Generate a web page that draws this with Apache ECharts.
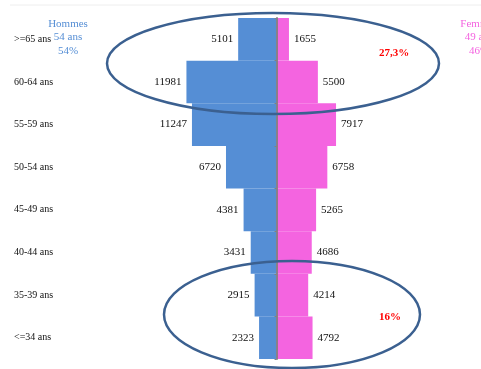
<!DOCTYPE html>
<html><head><meta charset="utf-8">
<script src="https://cdn.jsdelivr.net/npm/echarts@6/dist/echarts.min.js"></script>
<style>html,body{margin:0;padding:0;background:#fff}#c{width:481px;height:369px}</style>
</head><body><div id="c"></div>
<script>
const categories = ['>=65 ans','60-64 ans','55-59 ans','50-54 ans','45-49 ans','40-44 ans','35-39 ans','<=34 ans'];
const hommes = [5101, 11981, 11247, 6720, 4381, 3431, 2915, 2323];
const femmes = [1655, 5500, 7917, 6758, 5265, 4686, 4214, 4792];

const FONT = '"Liberation Serif","Times New Roman",serif';
const BLUE = '#558ED5', PINK = '#F464E0';
const chart = echarts.init(document.getElementById('c'), null, {renderer: 'canvas'});
chart.setOption({
  animation: false,
  grid: {left: 66, right: 9, top: 18, bottom: 10, containLabel: false, outerBoundsMode: 'none'},
  xAxis: {type: 'value', min: -28000, max: 26000, show: false},
  yAxis: [{
    type: 'category', data: categories, inverse: true, position: 'left',
    axisLine: {show: false, onZero: false},
    axisTick: {show: false},
    axisLabel: {align: 'left', margin: 52, fontFamily: FONT, fontSize: 10, color: '#111'},
    splitLine: {show: false}
  }, {
    type: 'category', data: categories, inverse: true, position: 'left', z: 10,
    axisLine: {show: true, onZero: true, lineStyle: {color: '#808080', width: 1.8}},
    axisTick: {show: true, length: 2, lineStyle: {color: '#808080'}},
    axisLabel: {show: false},
    splitLine: {show: false}
  }],
  series: [
    {type: 'bar', name: 'Hommes', yAxisIndex: 0, data: hommes.map(v => -v), barGap: '-100%', barCategoryGap: '0%',
     itemStyle: {color: BLUE},
     label: {show: true, position: 'left', distance: 5, formatter: p => String(-p.value),
             fontFamily: FONT, fontSize: 11, color: '#111'}},
    {type: 'bar', name: 'Femmes', yAxisIndex: 0, data: femmes, barGap: '-100%', barCategoryGap: '0%',
     itemStyle: {color: PINK},
     label: {show: true, position: 'right', distance: 5,
             fontFamily: FONT, fontSize: 11, color: '#111'}}
  ],
  graphic: [
    {type: 'line', shape: {x1: 10, y1: 5, x2: 481, y2: 5}, style: {stroke: '#eeeeee', lineWidth: 1}, z: 0},
    {type: 'text', x: 68, y: 17, style: {text: 'Hommes\n54 ans\n54%', fill: BLUE, font: '11px ' + FONT, textAlign: 'center', lineHeight: 13.5}, z: 20},
    {type: 'text', x: 479, y: 17, style: {text: 'Femmes\n49 ans\n46%', fill: PINK, font: '11px ' + FONT, textAlign: 'center', lineHeight: 13.5}, z: 20},
    {type: 'ellipse', shape: {cx: 273, cy: 63.5, rx: 166, ry: 50.5}, style: {fill: 'none', stroke: '#3B6090', lineWidth: 2.5}, z: 30},
    {type: 'ellipse', shape: {cx: 292, cy: 314.5, rx: 128, ry: 53.5}, style: {fill: 'none', stroke: '#3B6090', lineWidth: 2.5}, z: 30},
    {type: 'text', x: 394, y: 53, style: {text: '27,3%', fill: '#FF0000', font: 'bold 11px ' + FONT, textAlign: 'center', textVerticalAlign: 'middle'}, z: 20},
    {type: 'text', x: 390, y: 317, style: {text: '16%', fill: '#FF0000', font: 'bold 11px ' + FONT, textAlign: 'center', textVerticalAlign: 'middle'}, z: 20}
  ]
});
</script></body></html>
